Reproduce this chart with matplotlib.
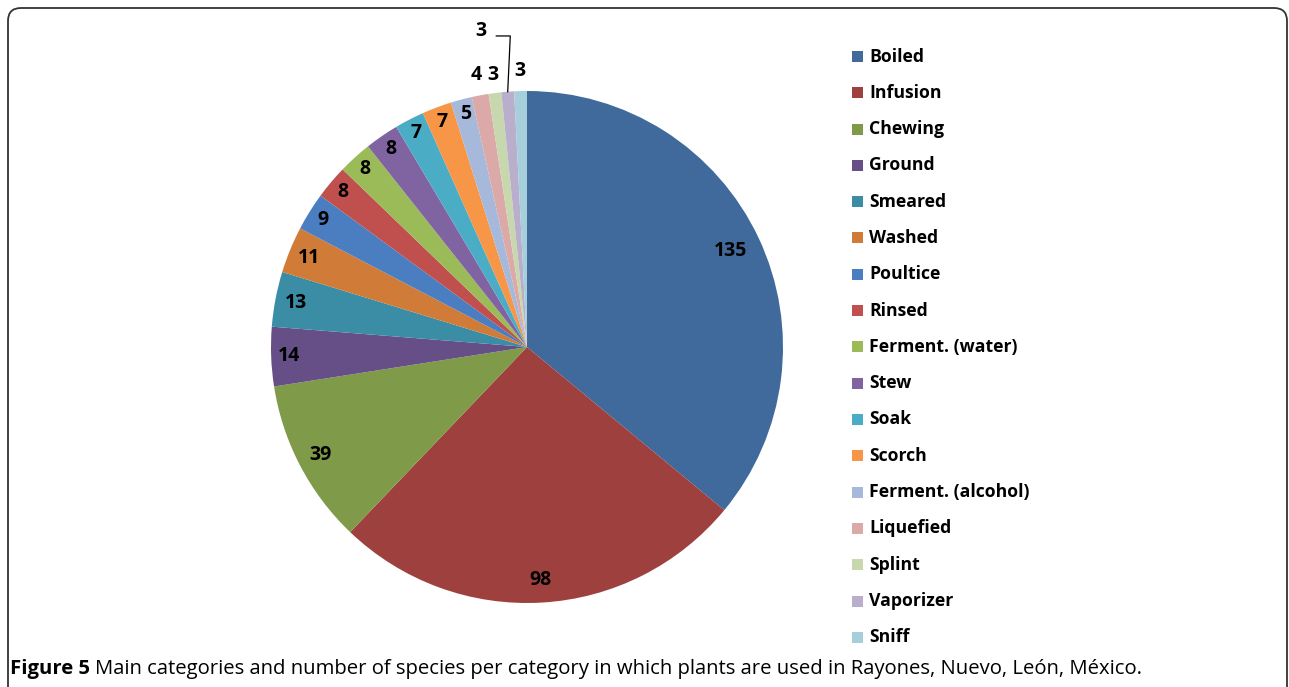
import numpy as np
import matplotlib
matplotlib.use("Agg")
import matplotlib.pyplot as plt
from matplotlib.patches import FancyBboxPatch, Rectangle

categories = ["Boiled", "Infusion", "Chewing", "Ground", "Smeared", "Washed",
              "Poultice", "Rinsed", "Ferment. (water)", "Stew", "Soak", "Scorch",
              "Ferment. (alcohol)", "Liquefied", "Splint", "Vaporizer", "Sniff"]
values = [135, 98, 39, 14, 13, 11, 9, 8, 8, 8, 7, 7, 5, 4, 3, 3, 3]
colors = ["#406A9B", "#9E413E", "#7F9A48", "#664E86", "#3A8DA4", "#D07C38",
          "#4A7EC0", "#C0504D", "#9BBB59", "#8064A2", "#4BACC6", "#F79646",
          "#A7B9DA", "#DBA9A8", "#C8D8AE", "#B9AECB", "#A6CEDB"]
caption_bold = "Figure 5"
caption_rest = ("Main categories and number of species per category in which "
                "plants are used in Rayones, Nuevo, León, México.")

W, H = 1289, 687
fig = plt.figure(figsize=(W / 100, H / 100), dpi=100)
FONT = "Open Sans"

# border
border = FancyBboxPatch((8 / 100, -0.5), (1287 - 8) / 100, (H - 8) / 100 + 0.5,
                        boxstyle="round,pad=0,rounding_size=0.13",
                        transform=fig.dpi_scale_trans, fill=False,
                        edgecolor="#333333", linewidth=1.3)
fig.patches.append(border)

cx, cy, r = 527, 347, 256
ax = fig.add_axes([(cx - r) / W, 1 - (cy + r) / H, 2 * r / W, 2 * r / H])
wedges, _ = ax.pie(values, colors=colors, startangle=90, counterclock=False,
                   radius=1.0)
ax.set_xlim(-1, 1)
ax.set_ylim(-1, 1)
ax.set_aspect("equal")
ax.axis("off")

LBL = 14
rf = [0.88, 0.91, 0.91, 0.93, 0.92, 0.92, 0.94, 0.94, 0.94, 0.94, 0.94, 0.94,
      0.94, 1.08, 1.07, None, 1.08]
for i, (w, v) in enumerate(zip(wedges, values)):
    ang = np.deg2rad((w.theta1 + w.theta2) / 2)
    if rf[i] is None:
        ex, ey = np.cos(ang), np.sin(ang)
        tx, ty = -0.16, 1.235
        ax.plot([ex, ex + 0.01, tx + 0.04], [ey, ty - 0.02, ty - 0.02],
                color="black", lw=0.9, clip_on=False)
        ax.text(tx, ty, str(v), ha="right", va="center", fontsize=LBL,
                fontweight="bold", family=FONT, clip_on=False)
        continue
    ax.text(rf[i] * np.cos(ang), rf[i] * np.sin(ang), str(v), ha="center",
            va="center", fontsize=LBL, fontweight="bold", family=FONT,
            clip_on=False)

# legend
y0, dy = 56.5, 36.3
for i, (c, lab) in enumerate(zip(colors, categories)):
    yy = y0 + i * dy
    fig.patches.append(Rectangle((852 / W, 1 - (yy + 5.5) / H), 11 / W, 11 / H,
                                 transform=fig.transFigure, facecolor=c,
                                 edgecolor="none"))
    fig.text(869 / W, 1 - yy / H, lab, ha="left", va="center", fontsize=12.7,
             fontweight="bold", family=FONT)

# caption
CAP = 13.5
t1 = fig.text(10 / W, 1 - 669 / H, caption_bold, ha="left", va="center",
              fontsize=CAP, fontweight="bold", family=FONT)
fig.canvas.draw()
bb = t1.get_window_extent()
t2 = fig.text((bb.x1 + 5) / W, 1 - 669 / H, caption_rest,
              ha="left", va="center", fontsize=CAP, fontweight="medium",
              family=FONT)
fig.canvas.draw()
e = t2.get_window_extent()
scale = (1143 - 10) / (e.x1 - 10)
t1.set_fontsize(CAP * scale)
t2.set_fontsize(CAP * scale)
fig.canvas.draw()
bb = t1.get_window_extent()
t2.set_x((bb.x1 + 5) / W)

fig.savefig("out.png", dpi=100)
